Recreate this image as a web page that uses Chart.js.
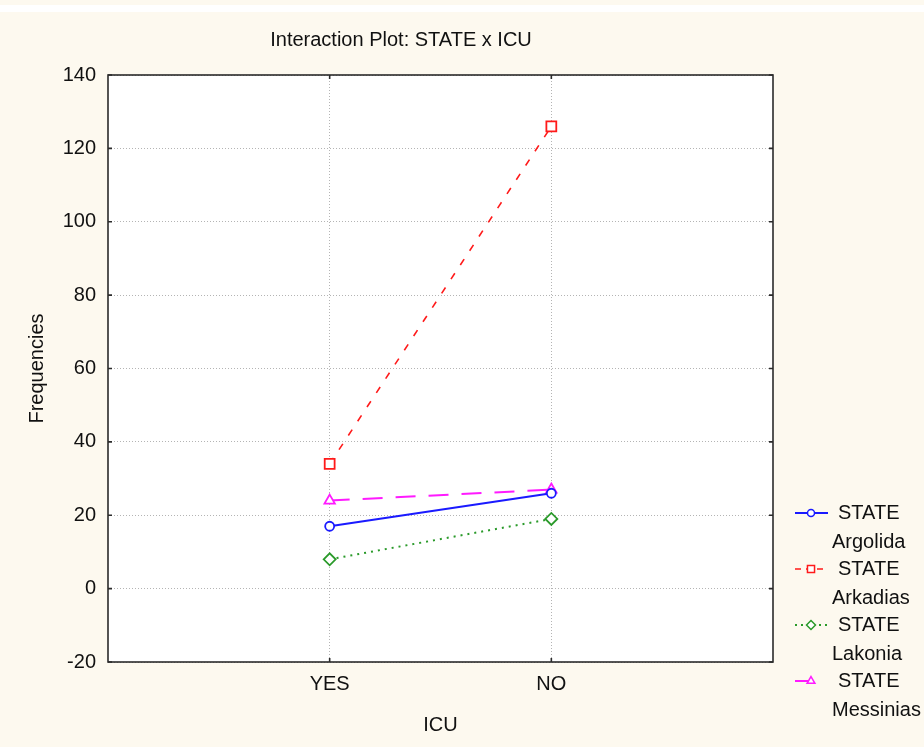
<!DOCTYPE html>
<html>
<head>
<meta charset="utf-8">
<script src="https://cdn.jsdelivr.net/npm/chart.js@4"></script>
<style>
  html, body { margin: 0; padding: 0; background: #fdf9ef; }
  #wrap { width: 924px; height: 747px; position: relative; }
</style>
</head>
<body>
<div id="wrap"><canvas id="c" width="924" height="747"></canvas></div>
<script>
// ICU levels along the x axis
const icuLevels = ['YES', 'NO'];

// Frequencies per STATE for each ICU level
const argolida  = [17, 26];
const arkadias  = [34, 126];
const lakonia   = [8, 19];
const messinias = [24, 27];

const stateNames = ['Argolida', 'Arkadias', 'Lakonia', 'Messinias'];
const yTickValues = [-20, 0, 20, 40, 60, 80, 100, 120, 140];

const FONT = '"Liberation Sans", Arial, sans-serif';
const CREAM = '#fdf9ef';

const styles = [
  { color: '#1a1aff', dash: [],      point: 'circle',   radius: 4.5, lw: 2 },
  { color: '#ff1a1a', dash: [7, 10], point: 'rect',     radius: 7,   lw: 1.6 },
  { color: '#2a9a2a', dash: [2, 5],  point: 'rectRot',  radius: 6,   lw: 2 },
  { color: '#ff1aff', dash: [20, 13],point: 'triangle', radius: 6,   lw: 2 }
];
const seriesValues = [argolida, arkadias, lakonia, messinias];

const datasets = seriesValues.map((vals, i) => ({
  label: 'STATE ' + stateNames[i],
  data: vals.map((v, k) => ({ x: k + 1, y: v })),
  borderColor: styles[i].color,
  borderWidth: styles[i].lw,
  borderDash: styles[i].dash,
  pointStyle: styles[i].point,
  pointRadius: styles[i].radius,
  pointBorderWidth: 1.8,
  pointBorderColor: styles[i].color,
  pointBackgroundColor: '#ffffff',
  tension: 0,
  fill: false
}));

// Background, plot frame, inward tick marks, titles and legend
const decor = {
  id: 'decor',
  beforeDraw(chart) {
    const { ctx, chartArea: a } = chart;
    ctx.save();
    ctx.fillStyle = CREAM;
    ctx.fillRect(0, 0, chart.width, chart.height);
    ctx.fillStyle = '#ffffff';
    ctx.fillRect(0, 5, chart.width, 7);
    ctx.fillRect(a.left, a.top, a.right - a.left, a.bottom - a.top);
    ctx.restore();
  },
  afterDraw(chart) {
    const { ctx, chartArea: a, scales } = chart;
    ctx.save();
    // frame
    ctx.strokeStyle = '#2b2b2b';
    ctx.lineWidth = 1.6;
    ctx.strokeRect(a.left, a.top, a.right - a.left, a.bottom - a.top);
    // inward ticks
    ctx.beginPath();
    yTickValues.forEach(v => {
      const y = scales.y.getPixelForValue(v);
      ctx.moveTo(a.left, y); ctx.lineTo(a.left + 4, y);
      ctx.moveTo(a.right, y); ctx.lineTo(a.right - 4, y);
    });
    icuLevels.forEach((_, k) => {
      const x = scales.x.getPixelForValue(k + 1);
      ctx.moveTo(x, a.bottom); ctx.lineTo(x, a.bottom - 4);
      ctx.moveTo(x, a.top); ctx.lineTo(x, a.top + 4);
    });
    ctx.stroke();

    // chart title
    ctx.fillStyle = '#111111';
    ctx.font = '20px ' + FONT;
    ctx.textAlign = 'center';
    ctx.textBaseline = 'middle';
    ctx.fillText('Interaction Plot: STATE x ICU', 401, 40);

    // axis titles
    ctx.font = '20px ' + FONT;
    ctx.fillText('ICU', (a.left + a.right) / 2, 725);
    ctx.save();
    ctx.translate(37, (a.top + a.bottom) / 2);
    ctx.rotate(-Math.PI / 2);
    ctx.fillText('Frequencies', 0, 0);
    ctx.restore();

    // legend
    ctx.font = '20px ' + FONT;
    ctx.textAlign = 'left';
    stateNames.forEach((name, i) => {
      const s = styles[i];
      const y = 513 + i * 56;
      const mx = 811;
      ctx.save();
      ctx.strokeStyle = s.color;
      ctx.lineWidth = s.lw;
      ctx.setLineDash(i === 1 ? [6, 5] : i === 2 ? [2, 4] : []);
      ctx.beginPath();
      if (i === 3) { ctx.moveTo(795, y); ctx.lineTo(mx, y); }
      else { ctx.moveTo(795, y); ctx.lineTo(828, y); }
      ctx.stroke();
      ctx.setLineDash([]);
      ctx.fillStyle = '#ffffff';
      ctx.lineWidth = 1.5;
      Chart.helpers.drawPoint(ctx, {
        pointStyle: s.point,
        radius: s.point === 'rect' ? 5 : s.point === 'circle' ? 3.5 : 4.5,
        borderWidth: 1.5,
        rotation: 0
      }, mx, y);
      ctx.restore();
      ctx.fillStyle = '#111111';
      ctx.fillText('STATE', 838, y);
      ctx.fillText(name, 832, y + 29);
    });
    ctx.restore();
  }
};

new Chart(document.getElementById('c'), {
  type: 'line',
  data: { datasets },
  plugins: [decor],
  options: {
    responsive: false,
    animation: false,
    devicePixelRatio: 1,
    layout: { padding: { top: 75, right: 151, left: 0, bottom: 0 } },
    plugins: {
      legend: { display: false },
      title: { display: false },
      tooltip: { enabled: false }
    },
    scales: {
      x: {
        type: 'linear',
        min: 0,
        max: 3,
        afterBuildTicks: s => { s.ticks = icuLevels.map((_, k) => ({ value: k + 1 })); },
        afterFit: s => { s.height = 85; },
        ticks: {
          callback: v => icuLevels[v - 1] ?? '',
          color: '#111111',
          font: { family: FONT, size: 20 },
          padding: 10,
          maxRotation: 0
        },
        grid: { color: '#b4b4b4', drawTicks: false, lineWidth: 1 },
        border: { display: false, dash: [1, 2] }
      },
      y: {
        type: 'linear',
        min: -20,
        max: 140,
        afterBuildTicks: s => { s.ticks = yTickValues.map(v => ({ value: v })); },
        afterFit: s => { s.width = 108; },
        ticks: {
          color: '#111111',
          font: { family: FONT, size: 20 },
          padding: 12
        },
        grid: { color: '#b4b4b4', drawTicks: false, lineWidth: 1 },
        border: { display: false, dash: [1, 2] }
      }
    }
  }
});
</script>
</body>
</html>
